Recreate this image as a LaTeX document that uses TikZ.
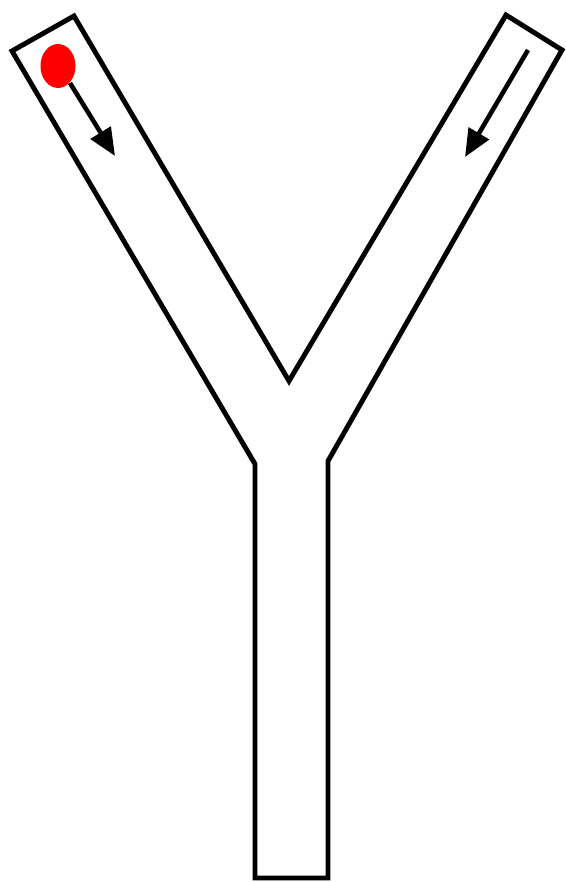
\documentclass[tikz,border=0pt]{standalone}
\usetikzlibrary{arrows.meta}
\definecolor{dotR}{RGB}{255,0,0}

\begin{document}
\begin{tikzpicture}[x=0.2mm,y=-0.2mm,line join=miter,>={Triangle[length=5.5mm,width=4.6mm]}]
\useasboundingbox (0,0) rectangle (565,882);
% channel outline
\draw[line width=2.8pt] (12,51)--(74,16)--(289,381)--(506,15)--(562,50)--(328,461)--(328,878)--(255,878)--(255,464)--cycle;
% particle and flow directions
\fill[dotR] (58,66) ellipse (17.5 and 22);
\draw[->,line width=2.6pt] (70,83)--(115,156);
\draw[->,line width=2.6pt] (528,50)--(465,157);
\end{tikzpicture}
\end{document}
